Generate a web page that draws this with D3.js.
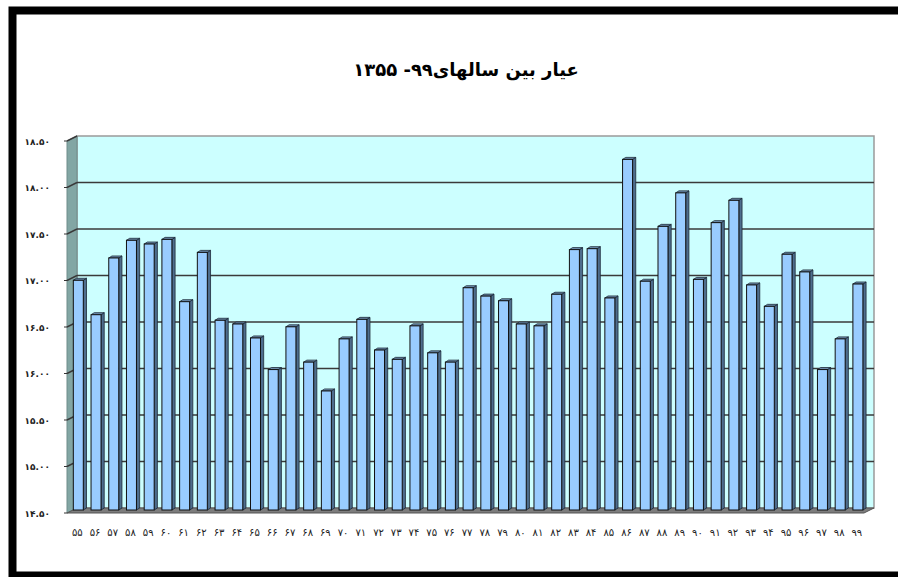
<!DOCTYPE html>
<html>
<head>
<meta charset="utf-8">
<script src="https://cdn.jsdelivr.net/npm/d3@7"></script>
<style>
  body { margin: 0; background: #fff; }
  svg { display: block; }
</style>
</head>
<body>
<div id="chart"></div>
<script>
// years 1355..1399 (two-digit labels) and the measured values
const years = [55, 56, 57, 58, 59, 60, 61, 62, 63, 64, 65, 66, 67, 68, 69, 70, 71, 72, 73, 74, 75, 76, 77,
	78, 79, 80, 81, 82, 83, 84, 85, 86, 87, 88, 89, 90, 91, 92, 93, 94, 95, 96, 97, 98, 99];
const values = [16.97, 16.60, 17.21, 17.40, 17.36, 17.41, 16.74, 17.27, 16.54, 16.50, 16.35,
	16.01, 16.47, 16.09, 15.78, 16.34, 16.55, 16.22, 16.12, 16.48, 16.19, 16.09, 16.89,
	16.80, 16.75, 16.50, 16.48, 16.82, 17.30, 17.31, 16.78, 18.27, 16.96, 17.55,
	17.91, 16.98, 17.59, 17.83, 16.92, 16.69, 17.25, 17.06, 16.01, 16.34, 16.93];
const yTicks = [14.5, 15.0, 15.5, 16.0, 16.5, 17.0, 17.5, 18.0, 18.5];
const title = "عيار بين سالهای۹۹- ۱۳۵۵";

const width = 898, height = 577;
const faDigits = "۰۱۲۳۴۵۶۷۸۹";
const toFa = (s) => String(s).replace(/[0-9]/g, (c) => faDigits[+c]);

const svg = d3.select("#chart").append("svg")
	.attr("width", width)
	.attr("height", height);

// outer black frame
svg.append("rect")
	.attr("x", 12.5).attr("y", 10.5)
	.attr("width", 1000).attr("height", 565)
	.attr("fill", "none")
	.attr("stroke", "#000")
	.attr("stroke-width", 8);

// title
svg.append("text")
	.attr("x", 466).attr("y", 76)
	.attr("text-anchor", "middle")
	.attr("direction", "rtl")
	.attr("font-family", "DejaVu Sans")
	.attr("font-weight", "bold")
	.attr("font-size", 18)
	.text(title);

// front-plane value scale; the back wall sits depth.dx right and depth.dy up
const y = d3.scaleLinear().domain([14.5, 18.5]).range([513, 141]);
const depth = { dx: 10, dy: -5 };
const frontLeft = 67, backRight = 874;

const x = d3.scaleBand()
	.domain(years)
	.range([68, 868.2])
	.paddingInner(0.436)
	.paddingOuter(0.3);

// back wall
svg.append("rect")
	.attr("x", frontLeft + depth.dx)
	.attr("y", y(18.5) + depth.dy)
	.attr("width", backRight - frontLeft - depth.dx)
	.attr("height", y(14.5) - y(18.5))
	.attr("fill", "#ccffff")
	.attr("stroke", "#9a9a9a")
	.attr("stroke-width", 1.5);

// side wall
svg.append("polygon")
	.attr("points", [
		[frontLeft, y(18.5)], [frontLeft + depth.dx, y(18.5) + depth.dy],
		[frontLeft + depth.dx, y(14.5) + depth.dy], [frontLeft, y(14.5)]
	].join(" "))
	.attr("fill", "#82a6a4")
	.attr("stroke", "#6f8c8a");

// floor
svg.append("polygon")
	.attr("points", [
		[frontLeft, y(14.5)], [frontLeft + depth.dx, y(14.5) + depth.dy],
		[backRight, y(14.5) + depth.dy], [backRight - depth.dx, y(14.5)]
	].join(" "))
	.attr("fill", "#7d7d7d")
	.attr("stroke", "#555");

// gridlines on back and side wall
const grid = svg.append("g")
	.attr("stroke", "#3a3a3a")
	.attr("stroke-width", 1.4);
grid.selectAll(".gb")
	.data(yTicks.slice(1, -1))
	.join("line")
	.attr("x1", frontLeft + depth.dx).attr("x2", backRight)
	.attr("y1", (d) => y(d) + depth.dy).attr("y2", (d) => y(d) + depth.dy);
grid.selectAll(".gs")
	.data(yTicks.slice(1))
	.join("line")
	.attr("x1", frontLeft).attr("x2", frontLeft + depth.dx)
	.attr("y1", (d) => y(d)).attr("y2", (d) => y(d) + depth.dy);

// axis ticks on the side wall's front edge
svg.append("g")
	.attr("stroke", "#333")
	.selectAll("line")
	.data(yTicks)
	.join("line")
	.attr("x1", frontLeft - 3).attr("x2", frontLeft)
	.attr("y1", (d) => y(d)).attr("y2", (d) => y(d));

// y tick labels
svg.append("g")
	.selectAll("text")
	.data(yTicks)
	.join("text")
	.attr("x", 50)
	.attr("y", (d) => y(d) + 3.5)
	.attr("text-anchor", "end")
	.attr("font-family", "DejaVu Sans")
	.attr("font-weight", "bold")
	.attr("font-size", 9)
	.attr("fill", "#222")
	.text((d) => toFa(d.toFixed(2)));

// 3d bars
const bd = { dx: 3.2, dy: -2, lift: -3 };
const bars = svg.append("g")
	.selectAll("g")
	.data(years.map((yr, i) => ({ yr, v: values[i] })))
	.join("g");
const base = y(14.5) + bd.lift;

bars.append("polygon") // side face
	.attr("points", (d) => {
		const x1 = x(d.yr) + x.bandwidth(), t = y(d.v) + bd.lift;
		return [[x1, t], [x1 + bd.dx, t + bd.dy], [x1 + bd.dx, base + bd.dy], [x1, base]].join(" ");
	})
	.attr("fill", "#4e6d8d")
	.attr("stroke", "#1c2a38")
	.attr("stroke-width", 0.8);

bars.append("polygon") // top face
	.attr("points", (d) => {
		const x0 = x(d.yr), x1 = x0 + x.bandwidth(), t = y(d.v) + bd.lift;
		return [[x0, t], [x0 + bd.dx, t + bd.dy], [x1 + bd.dx, t + bd.dy], [x1, t]].join(" ");
	})
	.attr("fill", "#7191b3")
	.attr("stroke", "#1c2a38")
	.attr("stroke-width", 0.8);

bars.append("rect") // front face
	.attr("x", (d) => x(d.yr))
	.attr("y", (d) => y(d.v) + bd.lift)
	.attr("width", x.bandwidth())
	.attr("height", (d) => base - (y(d.v) + bd.lift))
	.attr("fill", "#99ccff")
	.attr("stroke", "#111")
	.attr("stroke-width", 1);

// x labels
svg.append("g")
	.selectAll("text")
	.data(years)
	.join("text")
	.attr("x", (d) => x(d) + x.bandwidth() / 2 - 1)
	.attr("y", 536)
	.attr("text-anchor", "middle")
	.attr("font-family", "DejaVu Sans")
	.attr("font-size", 10)
	.attr("fill", "#222")
	.text((d) => toFa(d));
</script>
</body>
</html>
